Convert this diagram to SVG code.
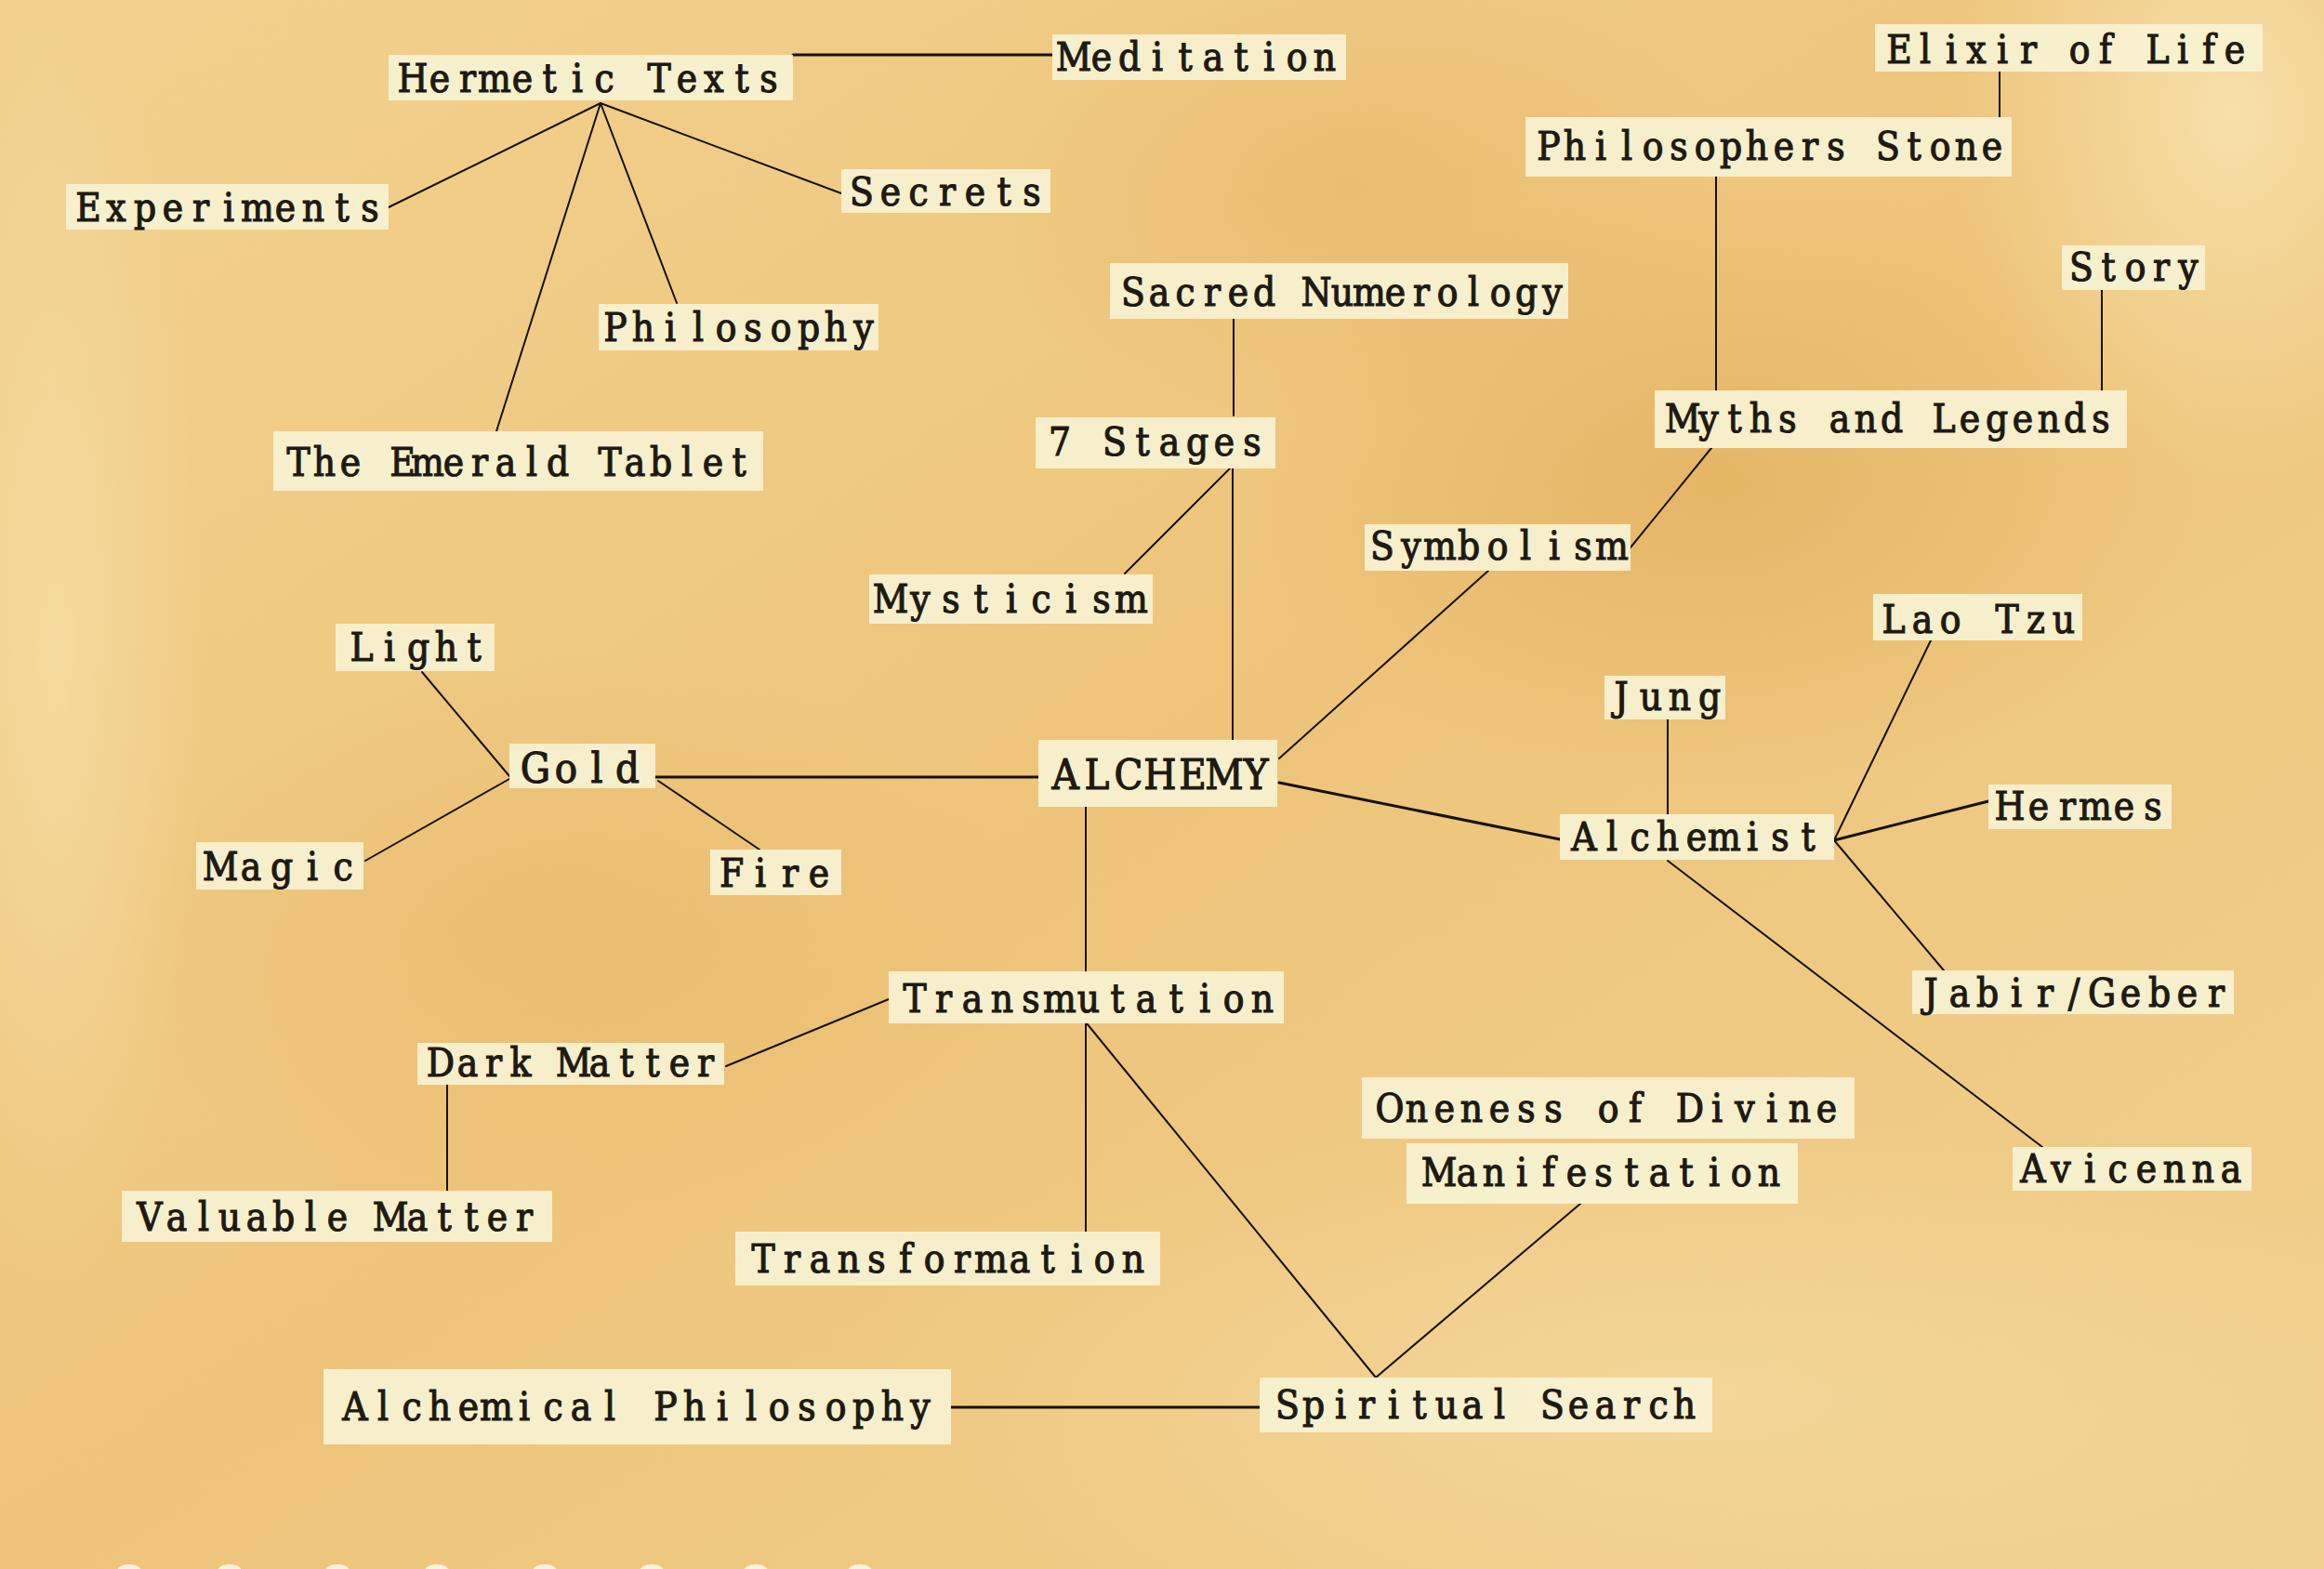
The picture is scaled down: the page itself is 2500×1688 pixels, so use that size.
<svg xmlns="http://www.w3.org/2000/svg" width="2500" height="1688" viewBox="0 0 2500 1688">
<defs>
<linearGradient id="bg" x1="0" y1="0" x2="1" y2="1">
<stop offset="0" stop-color="#f2d18e"/>
<stop offset="0.5" stop-color="#eec47a"/>
<stop offset="1" stop-color="#f1d08e"/>
</linearGradient>
<radialGradient id="stain" cx="0.5" cy="0.5" r="0.5">
<stop offset="0" stop-color="#dfa955" stop-opacity="0.55"/>
<stop offset="1" stop-color="#dfa955" stop-opacity="0"/>
</radialGradient>
<radialGradient id="light" cx="0.5" cy="0.5" r="0.5">
<stop offset="0" stop-color="#f9e6b4" stop-opacity="0.8"/>
<stop offset="1" stop-color="#f9e6b4" stop-opacity="0"/>
</radialGradient>
<style>
.box{fill:#f8f2d2;fill-opacity:0.93}
.lbl{font-family:"DejaVu Serif Condensed","DejaVu Serif","Liberation Serif",serif;font-stretch:condensed;font-size:42px;fill:#1e1912;stroke:#1e1912;stroke-width:1.1;text-anchor:middle}
.big{font-size:45px}
.c{stroke:#15110c;stroke-width:2;fill:none;stroke-linecap:round}
.t{stroke-width:3}
</style>
</defs>
<rect width="2500" height="1688" fill="url(#bg)"/>
<ellipse cx="1850" cy="520" rx="520" ry="330" fill="url(#stain)"/>
<ellipse cx="1450" cy="200" rx="420" ry="260" fill="url(#stain)" opacity="0.6"/>
<ellipse cx="600" cy="1000" rx="500" ry="300" fill="url(#stain)" opacity="0.5"/>
<ellipse cx="2400" cy="120" rx="300" ry="400" fill="url(#light)"/>
<ellipse cx="60" cy="700" rx="160" ry="700" fill="url(#light)" opacity="0.7"/>
<ellipse cx="1800" cy="1500" rx="900" ry="300" fill="url(#light)" opacity="0.5"/>
<g fill="#fbf6ea" opacity="0.9">
<ellipse cx="139" cy="1690" rx="13" ry="7"/><ellipse cx="247" cy="1690" rx="13" ry="7"/><ellipse cx="363" cy="1690" rx="13" ry="7"/><ellipse cx="470" cy="1690" rx="13" ry="7"/><ellipse cx="586" cy="1690" rx="13" ry="7"/><ellipse cx="701" cy="1690" rx="13" ry="7"/><ellipse cx="813" cy="1690" rx="13" ry="7"/><ellipse cx="925" cy="1690" rx="13" ry="7"/>
</g>
<g id="connectors">
<line class="c t" x1="853" y1="59" x2="1132" y2="59"/>
<line class="c" x1="646" y1="111" x2="418" y2="223"/>
<line class="c" x1="646" y1="111" x2="905" y2="208"/>
<line class="c" x1="646" y1="111" x2="728" y2="326"/>
<line class="c" x1="646" y1="111" x2="534" y2="464"/>
<line class="c" x1="1327" y1="343" x2="1327" y2="447"/>
<line class="c" x1="1323" y1="504" x2="1210" y2="617"/>
<line class="c" x1="1326" y1="504" x2="1326" y2="796"/>
<line class="c" x1="1601" y1="614" x2="1376" y2="816"/>
<line class="c" x1="1841" y1="482" x2="1754" y2="589"/>
<line class="c" x1="1846" y1="190" x2="1846" y2="420"/>
<line class="c" x1="2151" y1="77" x2="2151" y2="126"/>
<line class="c" x1="2261" y1="312" x2="2261" y2="420"/>
<line class="c" x1="454" y1="723" x2="548" y2="835"/>
<line class="c" x1="548" y1="838" x2="393" y2="926"/>
<line class="c t" x1="705" y1="836" x2="1117" y2="836"/>
<line class="c" x1="708" y1="840" x2="817" y2="914"/>
<line class="c t" x1="1376" y1="842" x2="1678" y2="903"/>
<line class="c" x1="1794" y1="774" x2="1794" y2="876"/>
<line class="c" x1="1973" y1="904" x2="2077" y2="689"/>
<line class="c t" x1="1973" y1="904" x2="2139" y2="862"/>
<line class="c" x1="1973" y1="904" x2="2091" y2="1044"/>
<line class="c" x1="1794" y1="926" x2="2197" y2="1234"/>
<line class="c" x1="1168" y1="868" x2="1168" y2="1045"/>
<line class="c" x1="956" y1="1075" x2="781" y2="1147"/>
<line class="c" x1="481" y1="1167" x2="481" y2="1281"/>
<line class="c" x1="1168" y1="1101" x2="1168" y2="1325"/>
<line class="c" x1="1169" y1="1101" x2="1480" y2="1482"/>
<line class="c" x1="1700" y1="1295" x2="1480" y2="1482"/>
<line class="c t" x1="1023" y1="1514" x2="1355" y2="1514"/>
</g>
<g id="hermetic-texts"><rect class="box" x="418" y="59" width="435" height="49"/><text class="lbl" x="444 473 503 532 562 591 621 650 680 709 739 768 798 827" y="99">Hermetic Texts</text></g>
<g id="meditation"><rect class="box" x="1132" y="37" width="316" height="49"/><text class="lbl" x="1155 1185 1215 1245 1275 1305 1335 1365 1395 1425" y="76">Meditation</text></g>
<g id="experiments"><rect class="box" x="71" y="198" width="347" height="49"/><text class="lbl" x="95 125 156 186 216 246 277 307 337 368 398" y="238">Experiments</text></g>
<g id="secrets"><rect class="box" x="905" y="182" width="225" height="47"/><text class="lbl" x="927 958 988 1019 1049 1080 1110" y="221">Secrets</text></g>
<g id="philosophy"><rect class="box" x="644" y="327" width="301" height="50"/><text class="lbl" x="662 692 721 751 781 810 840 870 899 929" y="367">Philosophy</text></g>
<g id="emerald-tablet"><rect class="box" x="294" y="464" width="527" height="64"/><text class="lbl" x="321 349 377 405 433 460 488 516 544 572 600 628 656 683 711 739 767 795" y="512">The Emerald Tablet</text></g>
<g id="sacred-numerology"><rect class="box" x="1194" y="283" width="493" height="60"/><text class="lbl" x="1219 1247 1275 1304 1332 1360 1388 1416 1444 1473 1501 1529 1557 1585 1614 1642 1670" y="329">Sacred Numerology</text></g>
<g id="seven-stages"><rect class="box" x="1114" y="449" width="258" height="55"/><text class="lbl" x="1140 1170 1199 1229 1258 1288 1317 1347" y="490">7 Stages</text></g>
<g id="mysticism"><rect class="box" x="935" y="618" width="305" height="53"/><text class="lbl" x="958 990 1023 1055 1088 1120 1152 1185 1217" y="659">Mysticism</text></g>
<g id="symbolism"><rect class="box" x="1468" y="564" width="286" height="50"/><text class="lbl" x="1487 1518 1549 1580 1611 1641 1672 1703 1734" y="602">Symbolism</text></g>
<g id="philosophers-stone"><rect class="box" x="1641" y="126" width="523" height="64"/><text class="lbl" x="1666 1694 1722 1750 1778 1806 1834 1862 1890 1919 1947 1975 2003 2031 2059 2087 2115 2143" y="172">Philosophers Stone</text></g>
<g id="elixir"><rect class="box" x="2017" y="26" width="417" height="51"/><text class="lbl" x="2043 2071 2099 2126 2154 2182 2210 2237 2265 2293 2321 2348 2376 2404" y="68">Elixir of Life</text></g>
<g id="story"><rect class="box" x="2218" y="264" width="154" height="48"/><text class="lbl" x="2239 2268 2297 2325 2354" y="302">Story</text></g>
<g id="myths"><rect class="box" x="1780" y="420" width="508" height="62"/><text class="lbl" x="1810 1838 1866 1894 1923 1951 1979 2007 2035 2063 2091 2119 2148 2176 2204 2232 2260" y="465">Myths and Legends</text></g>
<g id="light-node"><rect class="box" x="361" y="671" width="171" height="51"/><text class="lbl" x="389 419 450 480 510" y="711">Light</text></g>
<g id="gold"><rect class="box" x="548" y="800" width="157" height="48"/><text class="lbl big" x="576 609 642 675" y="842">Gold</text></g>
<g id="magic"><rect class="box" x="211" y="906" width="180" height="51"/><text class="lbl" x="237 270 303 336 369" y="947">Magic</text></g>
<g id="fire"><rect class="box" x="764" y="914" width="141" height="49"/><text class="lbl" x="787 818 850 881" y="954">Fire</text></g>
<g id="alchemy"><rect class="box" x="1117" y="796" width="257" height="72"/><text class="lbl big" x="1146 1180 1214 1248 1283 1317 1351" y="849">ALCHEMY</text></g>
<g id="alchemist"><rect class="box" x="1678" y="876" width="295" height="49"/><text class="lbl" x="1704 1734 1764 1794 1825 1855 1885 1915 1945" y="915">Alchemist</text></g>
<g id="jung"><rect class="box" x="1726" y="727" width="130" height="47"/><text class="lbl" x="1744 1776 1807 1839" y="764">Jung</text></g>
<g id="lao-tzu"><rect class="box" x="2015" y="639" width="225" height="50"/><text class="lbl" x="2037 2068 2098 2129 2159 2190 2220" y="681">Lao Tzu</text></g>
<g id="hermes"><rect class="box" x="2139" y="844" width="197" height="48"/><text class="lbl" x="2162 2193 2224 2254 2285 2316" y="882">Hermes</text></g>
<g id="jabir"><rect class="box" x="2057" y="1044" width="346" height="47"/><text class="lbl" x="2077 2108 2138 2169 2200 2231 2261 2292 2323 2353 2384" y="1083">Jabir/Geber</text></g>
<g id="avicenna"><rect class="box" x="2165" y="1234" width="257" height="47"/><text class="lbl" x="2187 2217 2248 2278 2309 2339 2370 2400" y="1272">Avicenna</text></g>
<g id="transmutation"><rect class="box" x="956" y="1045" width="425" height="56"/><text class="lbl" x="984 1015 1046 1078 1109 1140 1171 1202 1233 1265 1296 1327 1358" y="1089">Transmutation</text></g>
<g id="dark-matter"><rect class="box" x="449" y="1122" width="330" height="45"/><text class="lbl" x="474 503 531 560 588 617 645 674 702 731 759" y="1158">Dark Matter</text></g>
<g id="valuable-matter"><rect class="box" x="131" y="1281" width="463" height="55"/><text class="lbl" x="161 190 219 247 276 305 334 363 391 420 449 478 507 535 564" y="1324">Valuable Matter</text></g>
<g id="transformation"><rect class="box" x="791" y="1325" width="457" height="58"/><text class="lbl" x="821 852 882 913 943 974 1005 1035 1066 1097 1127 1158 1188 1219" y="1369">Transformation</text></g>
<g id="oneness"><rect class="box" x="1465" y="1159" width="530" height="66"/><text class="lbl" x="1495 1524 1554 1583 1613 1642 1671 1701 1730 1759 1789 1818 1847 1877 1906 1936 1965" y="1207">Oneness of Divine</text></g>
<g id="manifestation"><rect class="box" x="1513" y="1230" width="421" height="65"/><text class="lbl" x="1548 1578 1607 1637 1666 1696 1725 1755 1785 1814 1844 1873 1903" y="1276">Manifestation</text></g>
<g id="alchemical-philosophy"><rect class="box" x="348" y="1473" width="675" height="81"/><text class="lbl" x="382 412 443 473 504 534 564 595 625 656 686 716 747 777 808 838 868 899 929 960 990" y="1528">Alchemical Philosophy</text></g>
<g id="spiritual-search"><rect class="box" x="1355" y="1482" width="487" height="59"/><text class="lbl" x="1385 1413 1442 1470 1499 1527 1556 1584 1613 1641 1670 1698 1727 1755 1784 1812" y="1526">Spiritual Search</text></g>
</svg>
